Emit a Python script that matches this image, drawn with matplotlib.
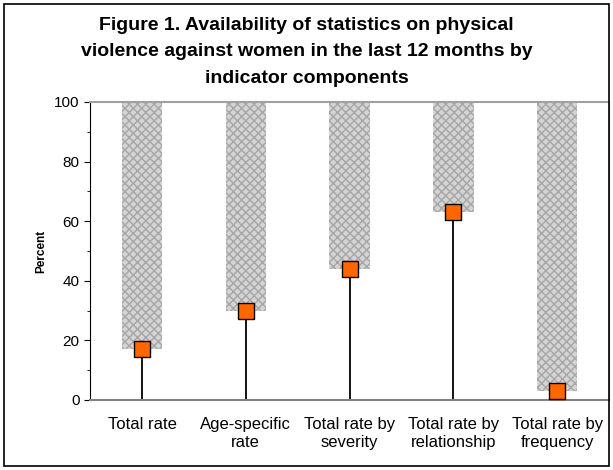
import matplotlib
matplotlib.use("Agg")
import matplotlib.pyplot as plt
from matplotlib.patches import Rectangle
from matplotlib.ticker import MultipleLocator

plt.rcParams['font.family'] = ['Liberation Sans', 'DejaVu Sans']
plt.rcParams['hatch.linewidth'] = 1.0

# data
categories = ["Total rate", "Age-specific\nrate", "Total rate by\nseverity",
              "Total rate by\nrelationship", "Total rate by\nfrequency"]
values = [17, 30, 44, 63, 3]
top = 100

fig = plt.figure(figsize=(6.13, 4.70), dpi=100)
ax = fig.add_axes([0.147, 0.149, 0.8465, 0.634])

x = list(range(len(categories)))

# grey hatched part from the value up to 100
ax.bar(x, [top - v for v in values], bottom=values, width=0.39,
       color='#d4d4d4', hatch='xxxx', edgecolor='#a6a6a6', linewidth=0, zorder=1)

# drop lines from 0 to the value
ax.vlines(x, 0, values, color='black', linewidth=1.3, zorder=2)

# orange markers
ax.plot(x, values, linestyle='none', marker='s', markersize=11,
        markerfacecolor='#ff6600', markeredgecolor='black', markeredgewidth=1.0, zorder=3)

ax.set_xlim(-0.5, len(categories) - 0.5)
ax.set_ylim(0, 100)
ax.yaxis.set_major_locator(MultipleLocator(20))
ax.yaxis.set_minor_locator(MultipleLocator(10))
ax.set_xticks(x)
ax.set_xticklabels(categories, fontsize=12, linespacing=1.3)
ax.tick_params(axis='x', length=0, pad=12)
ax.tick_params(axis='y', labelsize=11, length=4, direction='out')
ax.tick_params(axis='y', which='minor', length=2)

ax.spines['left'].set_color('black')
ax.spines['bottom'].set_color('#808080')
ax.spines['bottom'].set_linewidth(1.5)
ax.spines['top'].set_color('#a0a0a0')
ax.spines['top'].set_linewidth(1.5)
ax.spines['right'].set_color('#a0a0a0')

ax.set_ylabel("Percent", fontsize=8.5, fontweight='bold', labelpad=5)

fig.text(0.5, (470 - 52) / 470, "Figure 1. Availability of statistics on physical\n"
         "violence against women in the last 12 months by\nindicator components",
         ha='center', va='center', fontsize=14, fontweight='bold', linespacing=1.75)

# frame around the whole chart
fig.patches.append(Rectangle((0.0065, 0.0085), 0.987, 0.983, transform=fig.transFigure,
                             fill=False, edgecolor='black', linewidth=1.2))

fig.savefig("out.png", dpi=100)
